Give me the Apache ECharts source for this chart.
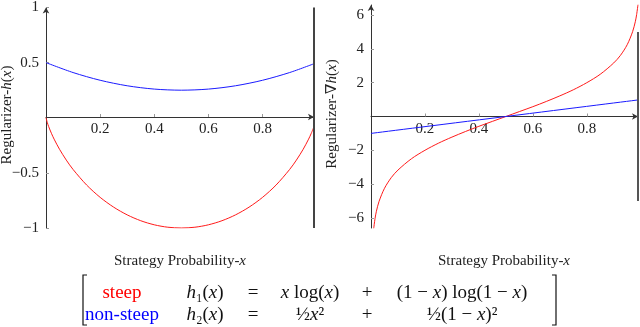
<!DOCTYPE html>
<html lang="en">
<head>
    <meta charset="UTF-8">
    <title>Regularizer h(x) and gradient</title>
    <script src="https://cdn.jsdelivr.net/npm/echarts@6/dist/echarts.min.js"></script>
    <style>
        body { margin: 0; background: #fff; }
        #chart { width: 640px; height: 327px; }
    </style>
</head>
<body>
<div id="chart"></div>
<script type="text/javascript">

    // left panel: h(x)
    let xSteep = [0, 0.005, 0.01, 0.02, 0.03, 0.05, 0.075, 0.1, 0.15, 0.2, 0.25, 0.3, 0.35, 0.4, 0.45, 0.5,
        0.55, 0.6, 0.65, 0.7, 0.75, 0.8, 0.85, 0.9, 0.925, 0.95, 0.97, 0.98, 0.99];
    let hSteep = [0, -0.045, -0.081, -0.141, -0.194, -0.286, -0.384, -0.469, -0.610, -0.722, -0.811, -0.881, -0.934, -0.971, -0.993, -1,
        -0.993, -0.971, -0.934, -0.881, -0.811, -0.722, -0.610, -0.469, -0.384, -0.286, -0.194, -0.141, -0.081];
    let xNonSteep = [0, 0.1, 0.2, 0.3, 0.4, 0.5, 0.6, 0.7, 0.8, 0.9, 0.99];
    let hNonSteep = [0.5, 0.41, 0.34, 0.29, 0.26, 0.25, 0.26, 0.29, 0.34, 0.41, 0.49];

    // right panel: gradient of h(x)
    let xGradSteep = [0.01, 0.015, 0.02, 0.03, 0.05, 0.075, 0.1, 0.15, 0.2, 0.25, 0.3, 0.35, 0.4, 0.45, 0.5,
        0.55, 0.6, 0.65, 0.7, 0.75, 0.8, 0.85, 0.9, 0.925, 0.95, 0.97, 0.98, 0.985, 0.99];
    let gSteep = [-6.63, -6.04, -5.61, -5.02, -4.25, -3.62, -3.17, -2.50, -2.00, -1.58, -1.22, -0.89, -0.58, -0.29, 0,
        0.29, 0.58, 0.89, 1.22, 1.58, 2.00, 2.50, 3.17, 3.62, 4.25, 5.02, 5.61, 6.04, 6.63];
    let xGradNonSteep = [0, 0.99];
    let gNonSteep = [-1, 0.98];

    // the dark vertical lines at the right end of each panel
    let edgeLeft = [[0.99, -1], [0.99, 1]];
    let edgeRight = [[0.99, -5], [0.99, 5]];

    let xTicks = [0.2, 0.4, 0.6, 0.8];
    let yTicksLeft = [-1, -0.5, 0.5, 1];
    let yTicksRight = [-6, -4, -2, 2, 4, 6];

    let font = "'Liberation Serif', 'DejaVu Serif', serif";
    let axisColor = '#333';

    function pairs(xs, ys) {
        let out = [];
        for (let i = 0; i < xs.length; i++) {
            out.push([xs[i], ys[i]]);
        }
        return out;
    }

    function minus(v) {
        return String(v).replace('-', '\u2212');
    }

    // x axis drawn through y = 0 (offset up from the grid bottom)
    function xAxisFor(gridIndex, offset) {
        return {
            type: 'value',
            gridIndex: gridIndex,
            position: 'bottom',
            offset: offset,
            min: 0,
            max: 0.99,
            splitLine: {show: false},
            axisLine: {
                onZero: false,
                symbol: ['none', 'arrow'],
                symbolSize: [5, 6],
                lineStyle: {color: axisColor, width: 1}
            },
            axisTick: {show: true, length: 3, inside: true, customValues: xTicks, lineStyle: {color: '#999'}},
            axisLabel: {
                customValues: xTicks,
                margin: 5,
                color: '#222',
                fontFamily: font,
                fontSize: 15,
                formatter: minus
            }
        };
    }

    function yAxisFor(gridIndex, min, max, ticks) {
        return {
            type: 'value',
            gridIndex: gridIndex,
            min: min,
            max: max,
            splitLine: {show: false},
            axisLine: {
                onZero: false,
                symbol: ['none', 'arrow'],
                symbolSize: [5, 6],
                lineStyle: {color: axisColor, width: 1}
            },
            axisTick: {show: true, length: 3, inside: true, customValues: ticks, lineStyle: {color: '#999'}},
            axisLabel: {
                customValues: ticks,
                margin: 7,
                color: '#222',
                fontFamily: font,
                fontSize: 15,
                formatter: minus
            }
        };
    }

    function curve(name, xi, yi, data, color, width) {
        return {
            name: name,
            type: 'line',
            xAxisIndex: xi,
            yAxisIndex: yi,
            data: data,
            showSymbol: false,
            smooth: 0.3,
            clip: true,
            lineStyle: {color: color, width: width},
            itemStyle: {color: color},
            animation: false
        };
    }

    let rich = {
        r: {fontFamily: font, fontSize: 15, fill: '#222'},
        i: {fontFamily: font, fontSize: 15, fontStyle: 'italic', fill: '#222'}
    };
    let eqRich = {
        r: {fontFamily: font, fontSize: 19, fill: '#111'},
        i: {fontFamily: font, fontSize: 19, fontStyle: 'italic', fill: '#111'}
    };

    function label(x, y, text, rot, r) {
        return {
            type: 'text',
            x: x,
            y: y,
            rotation: rot || 0,
            style: {
                text: text,
                rich: r || rich,
                align: 'center',
                verticalAlign: 'middle'
            }
        };
    }

    function bracket(x, dir) {
        // dir = 1 opens to the right, -1 opens to the left
        return {
            type: 'polyline',
            shape: {points: [[x + 4 * dir, 275], [x, 275], [x, 325], [x + 4 * dir, 325]]},
            style: {stroke: '#111', lineWidth: 1.2, fill: null}
        };
    }

    let myChart = echarts.init(document.getElementById('chart'), null, {renderer: 'canvas'});

    let option = {
        animation: false,
        grid: [
            {left: 46, top: 6, width: 268, height: 222},
            {left: 371, top: 5, width: 267, height: 223}
        ],
        xAxis: [xAxisFor(0, -111), xAxisFor(1, -111.5)],
        yAxis: [
            yAxisFor(0, -1, 1, yTicksLeft),
            yAxisFor(1, -6.6, 6.6, yTicksRight)
        ],
        series: [
            curve('steep', 0, 0, pairs(xSteep, hSteep), '#ff1a1a', 1),
            curve('non-steep', 0, 0, pairs(xNonSteep, hNonSteep), '#1a1aff', 1),
            curve('edge', 0, 0, edgeLeft, '#444', 2),
            curve('steep grad', 1, 1, pairs(xGradSteep, gSteep), '#ff1a1a', 1),
            curve('non-steep grad', 1, 1, pairs(xGradNonSteep, gNonSteep), '#1a1aff', 1),
            curve('edge grad', 1, 1, edgeRight, '#555', 2)
        ],
        graphic: [
            label(180, 261, '{r|Strategy Probability-}{i|x}'),
            label(504, 261, '{r|Strategy Probability-}{i|x}'),
            label(7, 115, '{r|Regularizer-}{i|h}{r|(}{i|x}{r|)}', Math.PI / 2),
            label(332, 114, '{r|Regularizer-\u2207}{i|h}{r|(}{i|x}{r|)}', Math.PI / 2),

            bracket(83, 1),
            bracket(556, -1),

            label(122, 293, '{s|steep}', 0, {s: {fontFamily: font, fontSize: 19, fill: '#ff0000'}}),
            label(205, 293, '{i|h}{r|\u2081(}{i|x}{r|)}', 0, eqRich),
            label(253, 293, '{r|=}', 0, eqRich),
            label(310, 293, '{i|x}{r| log(}{i|x}{r|)}', 0, eqRich),
            label(367, 293, '{r|+}', 0, eqRich),
            label(462, 293, '{r|(1 \u2212 }{i|x}{r|) log(1 \u2212 }{i|x}{r|)}', 0, eqRich),

            label(122, 315, '{s|non-steep}', 0, {s: {fontFamily: font, fontSize: 19, fill: '#0000ff'}}),
            label(205, 315, '{i|h}{r|\u2082(}{i|x}{r|)}', 0, eqRich),
            label(253, 315, '{r|=}', 0, eqRich),
            label(310, 315, '{r|\u00bd}{i|x}{r|\u00b2}', 0, eqRich),
            label(367, 315, '{r|+}', 0, eqRich),
            label(462, 315, '{r|\u00bd(1 \u2212 }{i|x}{r|)\u00b2}', 0, eqRich)
        ]
    };
    myChart.setOption(option);

</script>
</body>
</html>
